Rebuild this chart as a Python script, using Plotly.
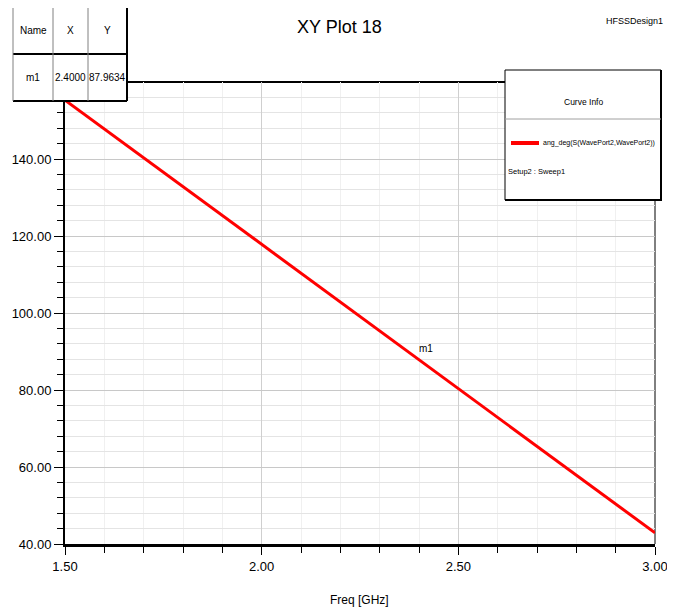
import plotly.graph_objects as go

# ---- data ----
freq_ghz = [1.5, 1.6, 1.7, 1.8, 1.9, 2.0, 2.1, 2.2, 2.3, 2.4, 2.5, 2.6, 2.7, 2.8, 2.9, 3.0]
ang_deg = [155.3, 147.8, 140.3, 132.8, 125.3, 117.8, 110.3, 102.9, 95.4, 87.9634,
           80.5, 73.0, 65.5, 58.0, 50.4, 42.9]
marker_name = "m1"
marker_x = 2.4
marker_y = 87.9634
x_ticks = [1.5, 2.0, 2.5, 3.0]
y_ticks = [40, 60, 80, 100, 120, 140]
trace_name = "ang_deg(S(WavePort2,WavePort2))"
sweep_name = "Setup2 : Sweep1"

FONT = "Liberation Sans, Arial, sans-serif"

OFF = 8  # page body margin in the browser
W, H = 675 - OFF, 615 - OFF
# plot area in screen pixels
SL, SR, ST, SB = 65, 655, 82, 544
L, R, T, B = SL - OFF, SR - OFF, ST - OFF, SB - OFF


def px(x):
    return (x - SL) / (SR - SL)


def py(y):
    return (SB - y) / (SB - ST)


fig = go.Figure()
fig.add_trace(go.Scatter(x=freq_ghz, y=ang_deg, mode="lines",
                         line=dict(color="#ff0000", width=3),
                         name=trace_name, showlegend=False, hoverinfo="skip"))

shapes = []
annotations = []

# marker table
tx0, tx1, ty0, ty1 = 13, 127, 6, 101
c1, c2, rmid = 53, 88, 54
shapes.append(dict(type="rect", xref="paper", yref="paper", x0=px(tx0), x1=px(tx1),
                   y0=py(ty1), y1=py(ty0), fillcolor="white", line=dict(width=0), layer="above"))
for (xa, ya, xb, yb, col, wd) in [
    (tx0, ty0, tx1, ty0, "black", 2), (tx0, rmid, tx1, rmid, "black", 2),
    (tx0, ty1, tx1, ty1, "black", 2), (tx0, ty0, tx0, ty1, "#808080", 1),
    (c1, ty0, c1, ty1, "#808080", 1), (c2, ty0, c2, ty1, "#808080", 1),
    (tx1, ty0, tx1, ty1, "black", 2)]:
    shapes.append(dict(type="line", xref="paper", yref="paper", x0=px(xa), x1=px(xb),
                       y0=py(ya), y1=py(yb), line=dict(color=col, width=wd), layer="above"))
cells = [("Name", (tx0 + c1) / 2, (ty0 + rmid) / 2), ("X", (c1 + c2) / 2, (ty0 + rmid) / 2),
         ("Y", (c2 + tx1) / 2, (ty0 + rmid) / 2),
         (marker_name, (tx0 + c1) / 2, (rmid + ty1) / 2),
         (f"{marker_x:.4f}", (c1 + c2) / 2, (rmid + ty1) / 2),
         (f"{marker_y:.4f}", (c2 + tx1) / 2, (rmid + ty1) / 2)]
for txt, cx, cy in cells:
    annotations.append(dict(text=txt, xref="paper", yref="paper", x=px(cx), y=py(cy),
                            showarrow=False, xanchor="center", yanchor="middle",
                            font=dict(family=FONT, size=10, color="black")))

# curve info box
lx0, lx1, ly0, ly1 = 505, 661, 70, 200
shapes.append(dict(type="rect", xref="paper", yref="paper", x0=px(lx0), x1=px(lx1),
                   y0=py(ly1), y1=py(ly0), fillcolor="white",
                   line=dict(color="black", width=1), layer="above"))
shapes.append(dict(type="line", xref="paper", yref="paper", x0=px(lx0), x1=px(lx1 + 1),
                   y0=py(ly1), y1=py(ly1), line=dict(color="black", width=2), layer="above"))
shapes.append(dict(type="line", xref="paper", yref="paper", x0=px(lx1), x1=px(lx1),
                   y0=py(ly0), y1=py(ly1), line=dict(color="black", width=2), layer="above"))
shapes.append(dict(type="line", xref="paper", yref="paper", x0=px(lx0), x1=px(lx1),
                   y0=py(119), y1=py(119), line=dict(color="#a0a0a0", width=1), layer="above"))
shapes.append(dict(type="line", xref="paper", yref="paper", x0=px(511), x1=px(539),
                   y0=py(143), y1=py(143), line=dict(color="#ff0000", width=4), layer="above"))
annotations.append(dict(text="Curve Info", xref="paper", yref="paper", x=px(583), y=py(102),
                        showarrow=False, xanchor="center", yanchor="middle",
                        font=dict(family=FONT, size=8.5, color="black")))
annotations.append(dict(text=trace_name, xref="paper", yref="paper", x=px(541), y=py(143),
                        showarrow=False, xanchor="left", yanchor="middle",
                        font=dict(family=FONT, size=7, color="black")))
annotations.append(dict(text=sweep_name, xref="paper", yref="paper", x=px(506), y=py(172),
                        showarrow=False, xanchor="left", yanchor="middle",
                        font=dict(family=FONT, size=7.5, color="black")))

# marker label
annotations.append(dict(text=marker_name, x=marker_x, y=marker_y, xref="x", yref="y",
                        showarrow=False, xanchor="left", yanchor="bottom", xshift=-2, yshift=3,
                        font=dict(family=FONT, size=10, color="black")))

# title, design name, x-axis title
annotations.append(dict(text="XY Plot 18", xref="paper", yref="paper", x=px(339), y=py(27),
                        showarrow=False, xanchor="center", yanchor="middle",
                        font=dict(family=FONT, size=18, color="black")))
annotations.append(dict(text="HFSSDesign1", xref="paper", yref="paper", x=px(665), y=py(21),
                        showarrow=False, xanchor="right", yanchor="middle",
                        font=dict(family=FONT, size=9, color="black")))
annotations.append(dict(text="Freq [GHz]", xref="paper", yref="paper", x=px(359), y=py(600),
                        showarrow=False, xanchor="center", yanchor="middle",
                        font=dict(family=FONT, size=12, color="black")))

fig.update_layout(
    width=W, height=H,
    margin=dict(l=L, r=W - R, t=T, b=H - B),
    paper_bgcolor="white", plot_bgcolor="white",
    showlegend=False,
    shapes=shapes, annotations=annotations,
    xaxis=dict(range=[1.5, 3.0], tickvals=x_ticks, tickformat=".2f",
               automargin=False,
               showgrid=True, gridcolor="#cfcfcf", gridwidth=1,
               ticks="outside", ticklen=8, tickcolor="black",
               minor=dict(dtick=0.1, showgrid=True, gridcolor="#f0f0f0", ticks="outside",
                          ticklen=6, tickcolor="black"),
               showline=True, linecolor="black", linewidth=3, mirror=False,
               zeroline=False,
               tickfont=dict(family=FONT, size=13, color="black")),
    yaxis=dict(range=[40, 160], tickvals=y_ticks, tickformat=".2f",
               automargin=False,
               showgrid=True, gridcolor="#c8c8c8", gridwidth=1,
               ticks="outside", ticklen=9, tickcolor="black",
               minor=dict(dtick=4, tick0=40, showgrid=True, gridcolor="#e4e4e4", ticks="outside",
                          ticklen=6, tickcolor="black"),
               showline=True, linecolor="black", linewidth=2, mirror=False,
               zeroline=False,
               tickfont=dict(family=FONT, size=13, color="black")),
)

# top and right frame lines
fig.add_shape(type="line", xref="paper", yref="paper", x0=0, x1=1, y0=1, y1=1,
              line=dict(color="black", width=2), layer="below")
fig.add_shape(type="line", xref="paper", yref="paper", x0=1, x1=1, y0=0, y1=1,
              line=dict(color="black", width=1), layer="below")

fig.write_html("out.html")
